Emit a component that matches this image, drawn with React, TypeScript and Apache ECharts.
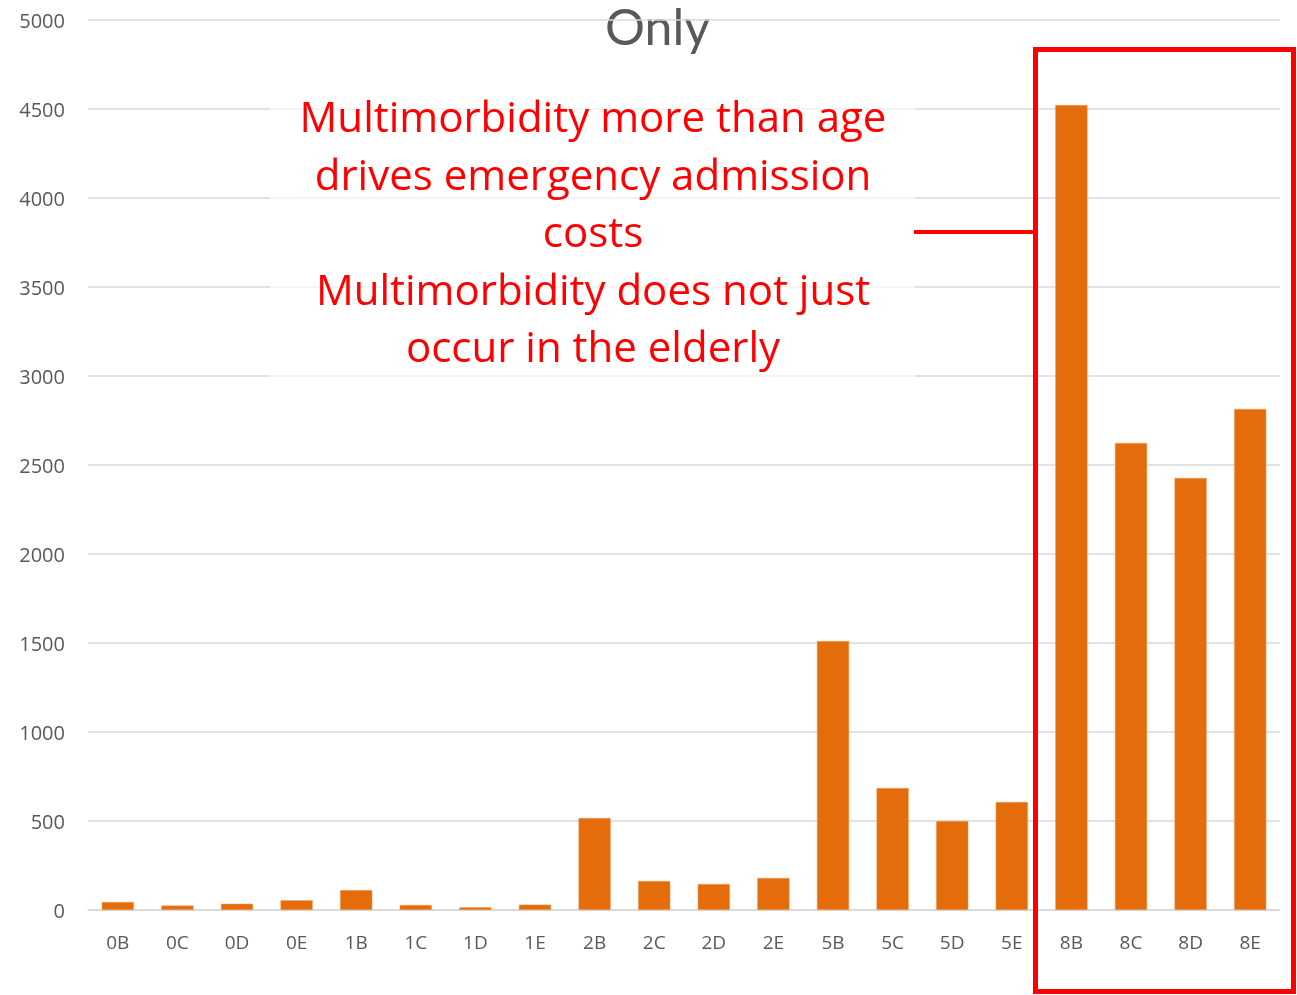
import React, { useEffect, useRef } from "react";
import * as echarts from "echarts";

const categories = ["0B","0C","0D","0E","1B","1C","1D","1E","2B","2C","2D","2E","5B","5C","5D","5E","8B","8C","8D","8E"];
const costs = [45, 25, 35, 55, 112, 28, 15, 30, 517, 163, 146, 180, 1511, 685, 500, 607, 4522, 2624, 2427, 2815];
const yTicks = { min: 0, max: 5000, interval: 500 };
const titleText = "Only";
const noteLines = [
  "Multimorbidity more than age",
  "drives emergency admission",
  "costs",
  "Multimorbidity does not just",
  "occur in the elderly",
];

export default function App() {
  const ref = useRef<HTMLDivElement>(null);
  useEffect(() => {
    if (!ref.current) return;
    const chart = echarts.init(ref.current, null, { renderer: "svg" });
    const font = "Open Sans, Noto Sans, sans-serif";
    chart.setOption({
      animation: false,
      grid: { left: 88, right: 17, top: 20, bottom: 85 },
      xAxis: {
        type: "category",
        data: categories,
        axisLine: { lineStyle: { color: "#d9d9d9", width: 1.5 } },
        axisTick: { show: false },
        axisLabel: { color: "#595959", fontSize: 19, fontFamily: font, margin: 22 },
      },
      yAxis: {
        type: "value",
        min: yTicks.min,
        max: yTicks.max,
        interval: yTicks.interval,
        axisLine: { show: false },
        axisTick: { show: false },
        splitLine: { lineStyle: { color: "#d9d9d9", width: 1.5 } },
        axisLabel: {
          color: "#595959",
          fontSize: 20,
          fontFamily: font,
          margin: 23,
          formatter: (v: number) => String(v),
        },
      },
      series: [
        {
          type: "bar",
          data: costs,
          barCategoryGap: "46%",
          itemStyle: { color: "#e46c0a", borderColor: "#f0a060", borderWidth: 0.5 },
        },
      ],
      graphic: [
        {
          type: "text",
          x: 605,
          y: 6,
          style: {
            text: titleText,
            fill: "#595959",
            font: "50px Lato, sans-serif",
            lineHeight: 40,
            verticalAlign: "top",
          },
        },
        {
          type: "rect",
          shape: { x: 270, y: 88, width: 645, height: 290 },
          style: { fill: "rgba(255,255,255,0.6)" },
          z: 10,
        },
        {
          type: "text",
          x: 593,
          y: 87,
          z: 11,
          style: {
            text: noteLines.join("\n"),
            fill: "#ff0000",
            font: "42px Open Sans, sans-serif",
            lineHeight: 57.5,
            align: "center",
            verticalAlign: "top",
          },
        },
        {
          type: "line",
          shape: { x1: 914, y1: 232, x2: 1035, y2: 232 },
          style: { stroke: "#ff0000", lineWidth: 4 },
          z: 11,
        },
        {
          type: "rect",
          shape: { x: 1035.5, y: 49.5, width: 258, height: 942 },
          style: { fill: "none", stroke: "#ff0000", lineWidth: 5 },
          z: 11,
        },
      ],
    });
    return () => chart.dispose();
  }, []);
  return (
    <div
      ref={ref}
      style={{ position: "fixed", left: 0, top: 0, width: 1297, height: 995 }}
    />
  );
}
